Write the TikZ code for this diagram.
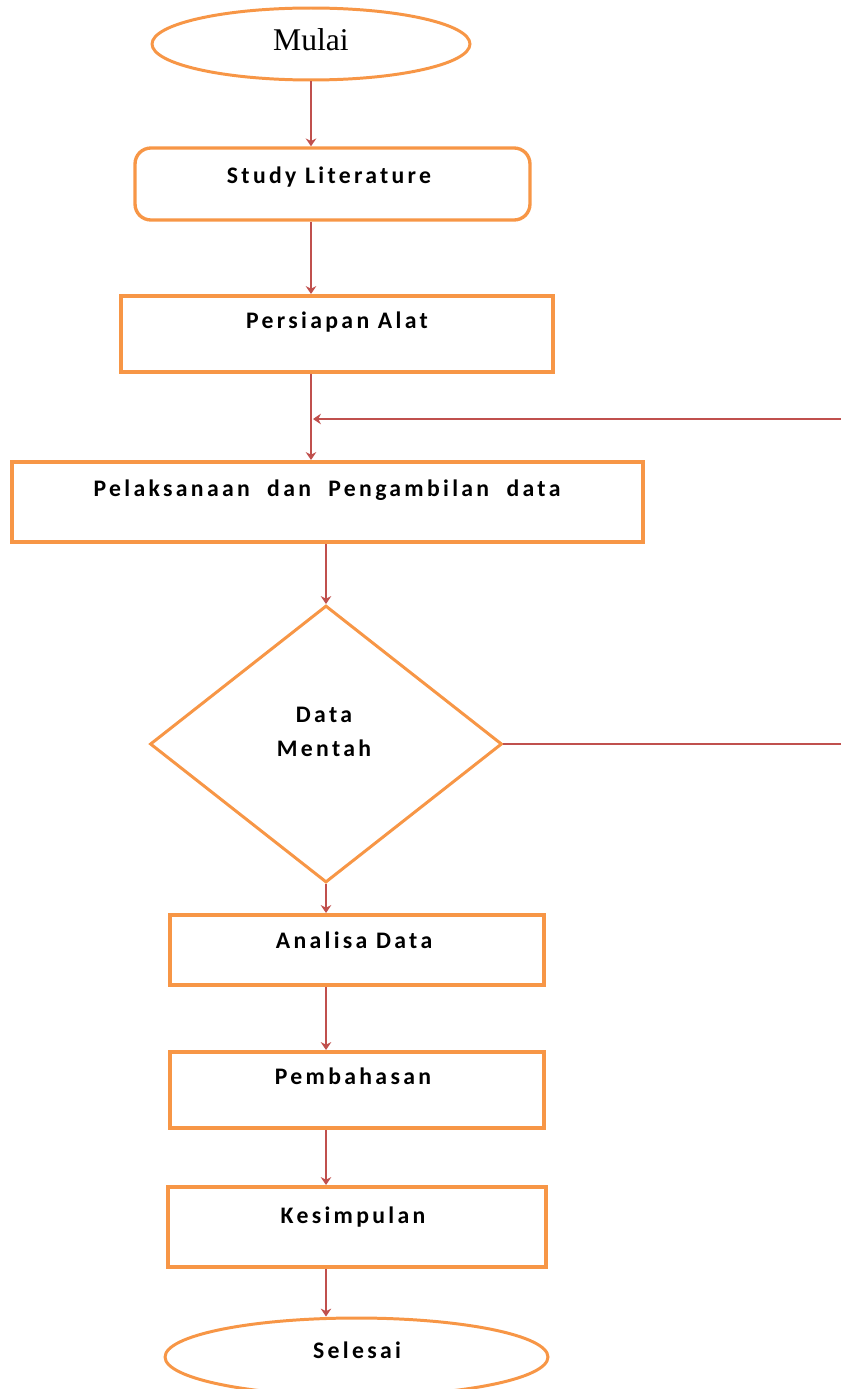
\documentclass[tikz,border=0pt]{standalone}
\usepackage{fontspec}
\setmainfont{Carlito}[LetterSpace=14]
\newfontfamily\serifname{Liberation Serif}
\usetikzlibrary{arrows.meta,positioning,calc,shapes.geometric}
\definecolor{boxorange}{HTML}{F79646}
\definecolor{linered}{HTML}{C0504D}

\begin{document}
\begin{tikzpicture}[x=0.02cm, y=-0.02cm, font=\fontsize{13.5}{16}\selectfont\bfseries,
  procbox/.style={draw=boxorange, line width=2.3pt, fill=white, inner sep=0pt},
  termbox/.style={ellipse, draw=boxorange, line width=1.7pt, fill=white, inner sep=0pt},
  flow/.style={draw=linered, line width=1.3pt, -{Stealth[length=4.5pt,width=6pt]}},
  plain/.style={draw=linered, line width=1.3pt}]
  \useasboundingbox (0,0) rectangle (841,1389);
  % terminals and process boxes
  \node[termbox, minimum width=6.36cm, minimum height=1.44cm] (mulai) at (311,44) {};
  \node[font=\serifname\fontsize{18}{20}\selectfont] at (311,40) {Mulai};
  \node[procbox, rounded corners=9pt, line width=1.9pt, minimum width=7.9cm, minimum height=1.44cm] (study) at (332.5,184) {};
  \node at (329,177) {Study Literature};
  \node[procbox, minimum width=8.64cm, minimum height=1.52cm] (alat) at (337,334) {};
  \node at (337,322) {Persiapan Alat};
  \node[procbox, minimum width=12.62cm, minimum height=1.6cm] (ambil) at (327.5,502) {};
  \node at (327,490) {Pelaksanaan\ \ dan\ \ Pengambilan\ \ data};
  \node[diamond, draw=boxorange, line width=1.7pt, minimum width=7.04cm, minimum height=5.54cm, inner sep=0pt] (mentah) at (326,744) {};
  \node[align=center] at (324,732) {Data\\[3pt]Mentah};
  \node[procbox, minimum width=7.48cm, minimum height=1.4cm] (analisa) at (357,950) {};
  \node at (354,940) {Analisa Data};
  \node[procbox, minimum width=7.48cm, minimum height=1.52cm] (bahas) at (357,1090) {};
  \node at (353,1076) {Pembahasan};
  \node[procbox, minimum width=7.56cm, minimum height=1.6cm] (simpul) at (357,1227) {};
  \node at (353,1217) {Kesimpulan};
  \node[termbox, minimum width=7.66cm, minimum height=1.56cm] (selesai) at (356.5,1357) {};
  \node at (357,1350) {Selesai};
  % connectors
  \coordinate (fbin) at (841,419);
  \coordinate (fbout) at (841,744);
  \draw[flow] (mulai.south) -- (mulai.south |- study.north);
  \draw[flow] (mulai.south |- study.south) -- (mulai.south |- alat.north);
  \draw[flow] (mulai.south |- alat.south) -- (mulai.south |- ambil.north);
  \draw[flow] (fbin) -- ($(fbin -| mulai.south)+(2,0)$);
  \draw[flow] (mentah.north |- ambil.south) -- (mentah.north);
  \draw[plain] (mentah.east) -- (fbout);
  \draw[flow] (mentah.south) -- (mentah.south |- analisa.north);
  \draw[flow] (mentah.south |- analisa.south) -- (mentah.south |- bahas.north);
  \draw[flow] (mentah.south |- bahas.south) -- (mentah.south |- simpul.north);
  \draw[flow] (mentah.south |- simpul.south) -- (mentah.south |- selesai.north);
\end{tikzpicture}
\end{document}
